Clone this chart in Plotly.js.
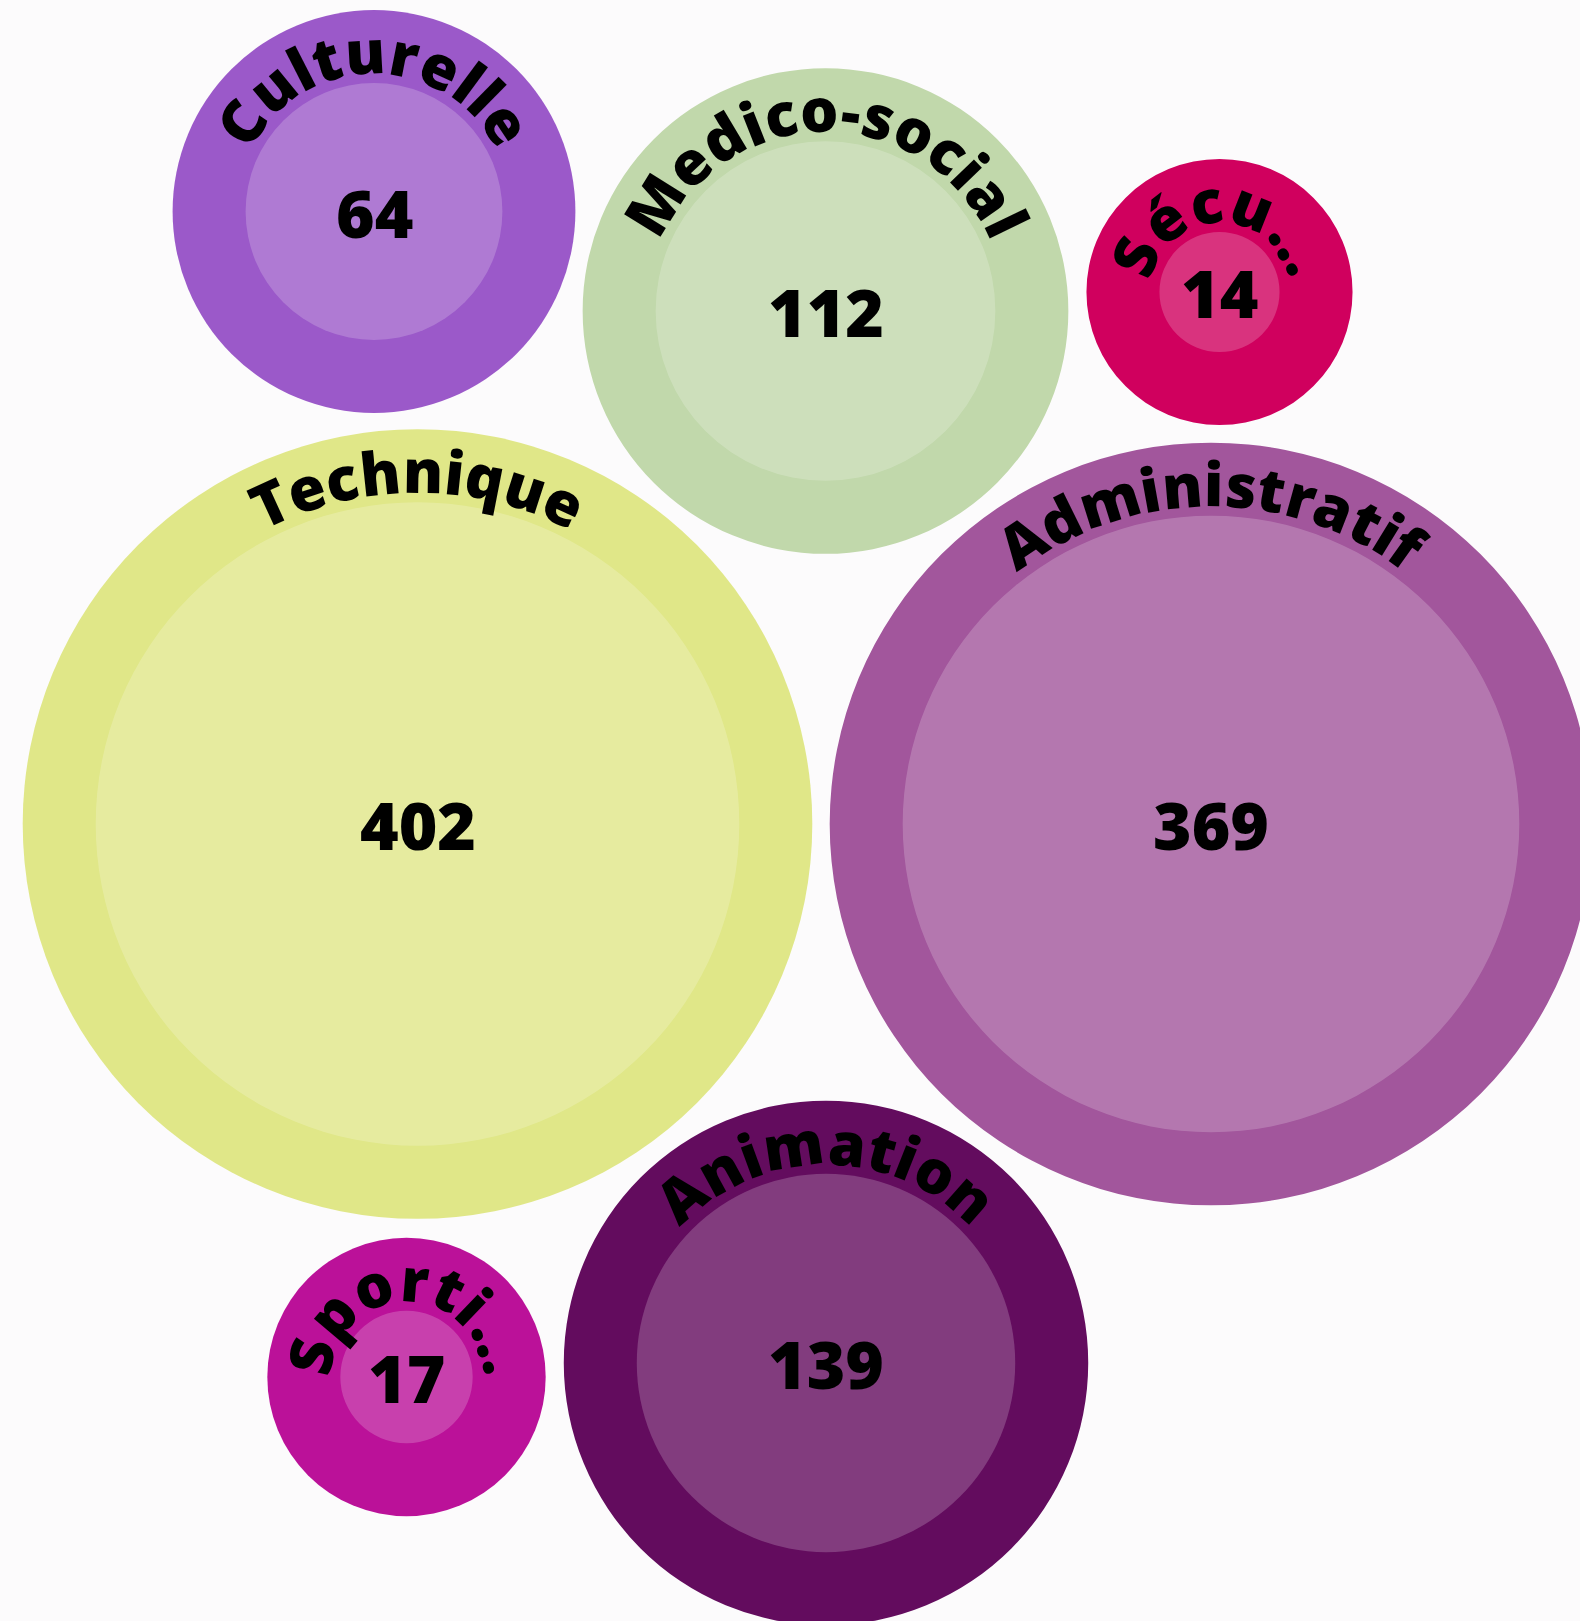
<!DOCTYPE html>
<html><head><meta charset="utf-8">
<script src="https://cdn.plot.ly/plotly-3.0.1.min.js"></script>
<style>html,body{margin:0;padding:0;background:#fcfbfc;}</style>
</head><body><div id="chart" style="width:1580px;height:1621px;"></div>
<script>
// ---- data ----
const categories = ["Culturelle", "Medico-social", "Sécu…", "Technique", "Administratif", "Sporti…", "Animation"];
const values = [64, 112, 14, 402, 369, 17, 139];
const colors = ["#9b59c9", "#c1d8ab", "#d0005e", "#e0e788", "#a2569c", "#bb1199", "#630c5e"];
// packed-circle layout (centre positions in the 1580x1621 canvas space)
const packX = [374, 825.5, 1219.5, 417.5, 1211, 406.5, 826];
const packY = [211.5, 311, 292, 824, 824, 1377, 1363];

// ---- settings ----
const W = 1580, H = 1621;
const AREA_K = 16.05;   // inner radius = AREA_K * sqrt(value)
const RING = 73;        // outer ring width
const LABEL_SIZE = 60, NUM_SIZE = 66;
const FAMILY = "Open Sans";
const WEIGHT = 800;
const BASE_OFF = 9;     // label baseline distance outside inner circle
const MID = 0.388;      // baseline offset below text-box centre (em)

const cv = document.createElement('canvas').getContext('2d');
cv.font = WEIGHT + " " + LABEL_SIZE + "px '" + FAMILY + "'";

const shapes = [], annotations = [];
values.forEach((v, i) => {
  const cx = packX[i], cy = packY[i];
  const rIn = AREA_K * Math.sqrt(v), rOut = rIn + RING;
  shapes.push({type: 'circle', xref: 'x', yref: 'y', x0: cx - rOut, x1: cx + rOut, y0: cy - rOut, y1: cy + rOut,
    fillcolor: colors[i], line: {width: 0}, layer: 'below'});
  shapes.push({type: 'circle', xref: 'x', yref: 'y', x0: cx - rIn, x1: cx + rIn, y0: cy - rIn, y1: cy + rIn,
    fillcolor: 'rgba(255,255,255,0.2)', line: {width: 0}, layer: 'below'});
  annotations.push({x: cx, y: cy, xref: 'x', yref: 'y', text: String(v), showarrow: false,
    xanchor: 'center', yanchor: 'middle',
    font: {family: FAMILY, size: NUM_SIZE, color: '#000', weight: WEIGHT}});
  // curved label
  const chars = Array.from(categories[i]);
  const adv = chars.map(c => cv.measureText(c).width);
  const total = adv.reduce((a, b) => a + b, 0);
  const R = rIn + BASE_OFF;
  const rc = R + MID * LABEL_SIZE;
  let cum = 0;
  chars.forEach((c, k) => {
    const th = (cum + adv[k] / 2 - total / 2) / R;
    cum += adv[k];
    annotations.push({x: cx + rc * Math.sin(th), y: cy - rc * Math.cos(th), xref: 'x', yref: 'y',
      text: c, showarrow: false, xanchor: 'center', yanchor: 'middle', borderpad: 0,
      textangle: th * 180 / Math.PI,
      font: {family: FAMILY, size: LABEL_SIZE, color: '#000', weight: WEIGHT}});
  });
});

const layout = {
  width: W, height: H, margin: {l: 0, r: 0, t: 0, b: 0, pad: 0},
  paper_bgcolor: '#fcfbfc', plot_bgcolor: '#fcfbfc',
  xaxis: {range: [0, W], visible: false, fixedrange: true},
  yaxis: {range: [H, 0], visible: false, fixedrange: true},
  shapes: shapes, annotations: annotations, showlegend: false
};
Plotly.newPlot('chart', [{x: [], y: [], type: 'scatter', mode: 'markers', hoverinfo: 'skip'}], layout,
  {staticPlot: true, displayModeBar: false});
</script></body></html>
